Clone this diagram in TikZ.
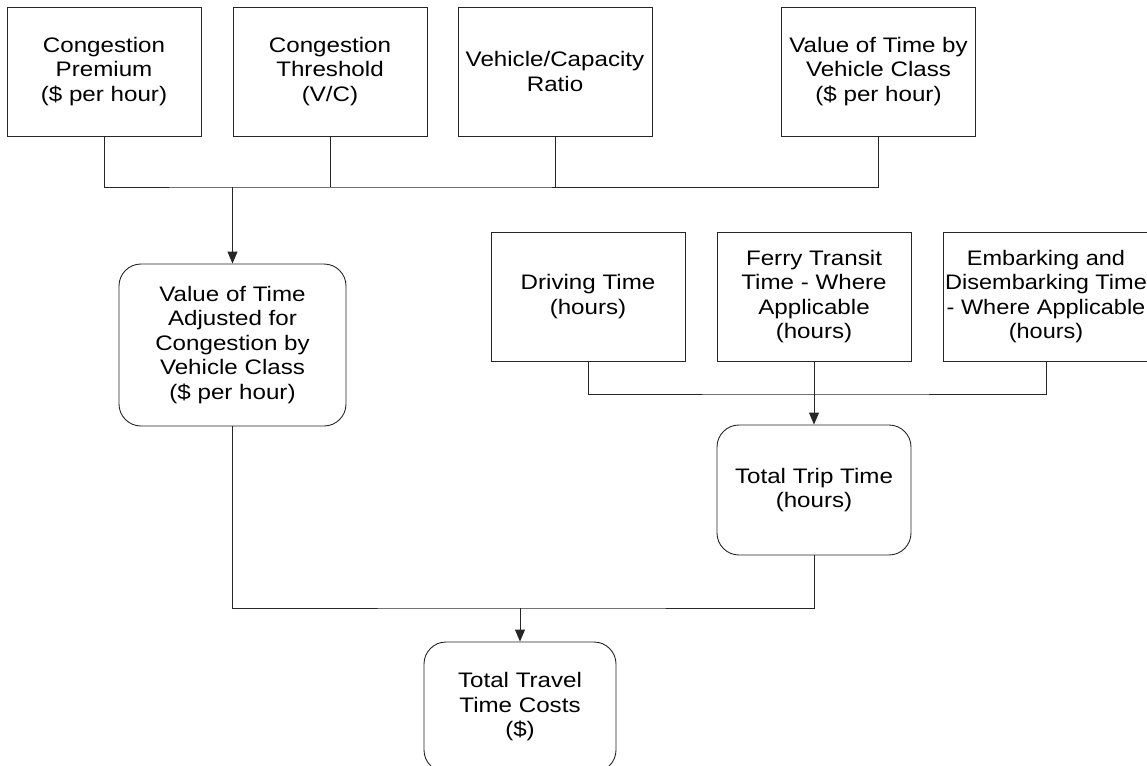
\documentclass[tikz,border=0pt]{standalone}
\usepackage{fontspec}
\setmainfont{Liberation Sans}[FakeStretch=1.15]
\newfontfamily\snugfont{Liberation Sans}[FakeStretch=1.12]
\usetikzlibrary{arrows.meta}

\tikzset{
  every node/.style={font=\fontsize{21}{24.5}\selectfont, align=center, inner sep=2pt},
  databox/.style={draw=black!85, line width=0.9pt, minimum width=194pt, minimum height=129pt},
  resultbox/.style={draw=black!85, line width=0.9pt, rounded corners=22pt},
  link/.style={draw=black!85, line width=0.9pt},
  arr/.style={link, -{Triangle[length=12pt,width=10pt]}}
}

\begin{document}
\begin{tikzpicture}[x=1pt,y=-1pt]
  \useasboundingbox (0,0) rectangle (1147,765);
  \clip (0,0) rectangle (1147,765);

  % inputs to the congestion-adjusted value of time
  \node[databox] (cp) at (104,71.5)   {Congestion\\Premium\\(\$ per hour)};
  \node[databox] (ct) at (330,71.5)   {Congestion\\Threshold\\(V/C)};
  \node[databox] (vc) at (555,71.5)   {Vehicle/Capacity\\Ratio};
  \node[databox] (vt) at (878.5,71.5) {Value of Time by\\Vehicle Class\\(\$ per hour)};

  \node[resultbox, minimum width=227pt, minimum height=162pt] (vadj) at (232.5,345)
    {Value of Time\\Adjusted for\\Congestion by\\Vehicle Class\\(\$ per hour)};

  % trip time components
  \node[databox] (dt) at (588,296.5) {Driving Time\\(hours)};
  \node[databox] (ft) at (814,296.5) {Ferry Transit\\Time - Where\\Applicable\\(hours)};
  \node[databox, minimum width=206pt, font=\snugfont\fontsize{21}{24.5}\selectfont] (et) at (1046,296.5)
    {Embarking and\\Disembarking Time\\- Where Applicable\\(hours)};

  \node[resultbox, minimum width=194pt, minimum height=130pt] (tt) at (814,490)
    {Total Trip Time\\(hours)};

  \node[resultbox, minimum width=192pt, minimum height=130pt] (tc) at (520,707)
    {Total Travel\\Time Costs\\(\$)};

  % junction points of the collector lines
  \coordinate (j1) at (232.5,187);
  \coordinate (j2) at (814,394);
  \coordinate (j3) at (520,608);

  % first collector
  \draw[link] (cp.south) |- (j1) -| (vt.south);
  \draw[link] (ct.south) -- (ct.south |- j1);
  \draw[link] (vc.south) -- (vc.south |- j1);
  \draw[arr] (j1) -- (vadj.north);

  % second collector
  \draw[link] (dt.south) |- (j2) -| (et.south);
  \draw[arr] (ft.south) -- (tt.north);

  % final collector
  \draw[link] (vadj.south) |- (j3) -| (tt.south);
  \draw[arr] (j3) -- (tc.north);
\end{tikzpicture}
\end{document}
